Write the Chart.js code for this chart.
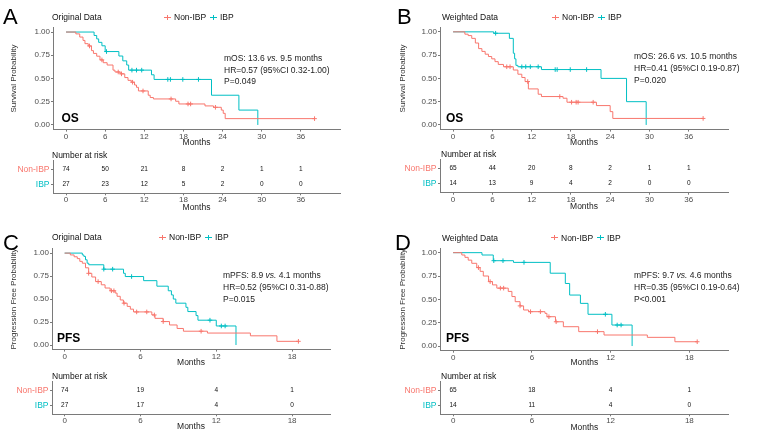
<!DOCTYPE html>
<html><head><meta charset="utf-8">
<script src="https://cdn.jsdelivr.net/npm/chart.js@4.4.1/dist/chart.umd.min.js"></script>
<style>
html,body{margin:0;padding:0;background:#fff;}
#root{position:relative;width:784px;height:437px;overflow:hidden;font-family:'Liberation Sans',Arial,sans-serif;}
canvas{position:absolute;}
.t{position:absolute;white-space:nowrap;}
.mk{position:absolute;}
</style></head><body><div id="root"></div>
<script>
// ================= DATA =================
const groups = ['Non-IBP', 'IBP'];
const osTicks = [0, 6, 12, 18, 24, 30, 36];
const pfsTicks = [0, 6, 12, 18];
const survTicks = [0, 0.25, 0.5, 0.75, 1];

// A: OS, original data
const A_nonT = [0, 1.5, 2.1, 2.6, 2.9, 3.4, 3.9, 4.2, 4.7, 5.2, 5.7, 6.3, 7.2, 7.5, 8.3, 9.0, 9.5, 10.0, 10.5, 10.8, 11.1, 12.6, 12.9, 13.4, 16.8, 17.3, 21.3, 22.6, 23.8, 24.1, 24.4, 38.1];
const A_nonS = [1, 0.98, 0.946, 0.91, 0.875, 0.85, 0.80, 0.77, 0.74, 0.70, 0.67, 0.645, 0.59, 0.57, 0.55, 0.51, 0.48, 0.46, 0.43, 0.405, 0.366, 0.32, 0.295, 0.28, 0.255, 0.226, 0.205, 0.19, 0.16, 0.125, 0.068, 0.068];
const A_nonC = [3.6, 5.5, 8.0, 8.5, 10.2, 11.8, 16.1, 18.7, 19.1, 22.9, 38.1];
const A_ibpT = [0, 4.3, 4.7, 5.0, 5.5, 6.0, 8.1, 8.7, 9.3, 9.6, 13.1, 13.5, 22.3, 26.5, 29.4];
const A_ibpS = [1, 0.963, 0.926, 0.889, 0.852, 0.79, 0.742, 0.69, 0.645, 0.59, 0.54, 0.49, 0.32, 0.16, 0];
const A_ibpC = [6.2, 10.1, 10.8, 11.6, 15.6, 16.0, 17.9, 20.3];
const A_riskNon = [74, 50, 21, 8, 2, 1, 1];
const A_riskIbp = [27, 23, 12, 5, 2, 0, 0];

// B: OS, weighted data
const B_nonT = [0, 1.8, 2.3, 2.85, 3.4, 3.9, 4.4, 4.9, 5.4, 5.9, 6.4, 6.9, 7.7, 9.2, 9.9, 10.5, 11.0, 11.5, 13.0, 13.5, 16.8, 17.4, 21.9, 24.0, 24.4, 38.2];
const B_nonS = [1, 0.975, 0.96, 0.93, 0.88, 0.82, 0.79, 0.76, 0.735, 0.71, 0.68, 0.65, 0.625, 0.59, 0.545, 0.51, 0.466, 0.387, 0.33, 0.305, 0.287, 0.244, 0.208, 0.143, 0.07, 0.07];
const B_nonC = [8.2, 8.7, 11.4, 16.3, 18.1, 18.8, 19.1, 21.4, 38.2];
const B_ibpT = [0, 6.2, 8.6, 9.2, 9.4, 9.6, 9.9, 13.5, 22.6, 26.5, 29.5];
const B_ibpS = [1, 0.985, 0.93, 0.77, 0.71, 0.64, 0.625, 0.595, 0.50, 0.25, 0];
const B_ibpC = [6.5, 10.5, 11.1, 11.8, 13.0, 15.6, 15.9, 17.9, 20.4];
const B_riskNon = [65, 44, 20, 8, 2, 1, 1];
const B_riskIbp = [14, 13, 9, 4, 2, 0, 0];

// C: PFS, original data
const C_nonT = [0, 0.45, 0.75, 1.0, 1.2, 1.4, 1.65, 1.9, 2.15, 2.45, 2.9, 3.2, 3.6, 4.0, 4.15, 4.4, 4.65, 4.95, 5.2, 5.45, 6.9, 7.15, 7.8, 8.3, 8.9, 9.4, 11.3, 14.7, 16.8, 18.5];
const C_nonS = [1, 0.98, 0.96, 0.94, 0.91, 0.89, 0.84, 0.78, 0.74, 0.69, 0.655, 0.62, 0.59, 0.565, 0.53, 0.49, 0.455, 0.42, 0.39, 0.36, 0.327, 0.29, 0.255, 0.218, 0.18, 0.15, 0.13, 0.10, 0.04, 0.04];
const C_nonC = [1.9, 2.65, 3.7, 3.9, 4.7, 5.7, 6.5, 7.1, 7.8, 10.8, 18.5];
const C_ibpT = [0, 1.4, 1.52, 1.65, 1.78, 1.91, 3.1, 4.66, 4.8, 6.25, 7.3, 8.2, 8.45, 8.6, 8.8, 9.6, 9.75, 10.4, 10.55, 12.0, 13.56];
const C_ibpS = [1, 0.98, 0.964, 0.927, 0.89, 0.873, 0.825, 0.78, 0.745, 0.70, 0.64, 0.59, 0.545, 0.50, 0.455, 0.41, 0.364, 0.32, 0.27, 0.207, 0];
const C_ibpC = [3.1, 3.8, 5.3, 11.5, 12.4, 12.7];
const C_riskNon = [74, 19, 4, 1];
const C_riskIbp = [27, 17, 4, 0];

// D: PFS, weighted data
const D_nonT = [0, 0.66, 0.9, 1.15, 1.42, 1.8, 2.06, 2.3, 2.7, 3.0, 3.33, 4.2, 4.48, 4.73, 5.1, 5.37, 5.75, 7.0, 7.15, 7.8, 8.4, 9.57, 11.5, 14.8, 16.9, 18.6];
const D_nonS = [1, 0.975, 0.95, 0.92, 0.886, 0.84, 0.80, 0.75, 0.69, 0.655, 0.62, 0.585, 0.53, 0.475, 0.43, 0.386, 0.368, 0.35, 0.314, 0.26, 0.207, 0.154, 0.118, 0.093, 0.046, 0.046];
const D_nonC = [1.93, 2.82, 3.6, 3.85, 5.1, 5.9, 6.65, 7.3, 7.85, 11.0, 18.6];
const D_ibpT = [0, 2.2, 3.06, 4.6, 7.4, 8.55, 8.88, 9.7, 10.28, 12.1, 13.64];
const D_ibpS = [1, 0.975, 0.914, 0.896, 0.78, 0.67, 0.546, 0.457, 0.34, 0.225, 0];
const D_ibpC = [3.1, 3.8, 5.4, 11.6, 12.5, 12.8];
const D_riskNon = [65, 18, 4, 1];
const D_riskIbp = [14, 11, 4, 0];

// ================= STYLE / LAYOUT =================
const FONT = "'Liberation Sans', Arial, sans-serif";
const COL = {non: '#F8766D', ibp: '#00BFC4'};
const AXIS = '#7a7a7a';
const TICKC = '#4d4d4d';
const root = document.getElementById('root');

const panels = [
  {letter:'A', sub:'Original Data', ep:'OS', yTitle:'Survival Probability',
   nonT:A_nonT, nonS:A_nonS, nonC:A_nonC, ibpT:A_ibpT, ibpS:A_ibpS, ibpC:A_ibpC,
   riskNon:A_riskNon, riskIbp:A_riskIbp, xTicks:osTicks, xMin:-2, xMax:42,
   stats:['mOS: 13.6 <i>vs.</i> 9.5 months','HR=0.57 (95%CI 0.32-1.00)','P=0.049'],
   g:{L:0, PL:53, PR:340, kmCT:18, kmCH:134, kmTop:27.4, kmBot:129.6, kmMonths:143, yTitleX:13.5,
      tbCT:150, tbCH:65, tbTop:160.3, tbBot:193.3, tbMonths:207.3,
      letter:[3,16.7], sub:[52,17.3], leg:[164,17.3], stats:[224,[58.3,70,80.7]], ep:[61.5,118], nar:[52,155]}},
  {letter:'B', sub:'Weighted Data', ep:'OS', yTitle:'Survival Probability',
   nonT:B_nonT, nonS:B_nonS, nonC:B_nonC, ibpT:B_ibpT, ibpS:B_ibpS, ibpC:B_ibpC,
   riskNon:B_riskNon, riskIbp:B_riskIbp, xTicks:osTicks, xMin:-2, xMax:42,
   stats:['mOS: 26.6 <i>vs.</i> 10.5 months','HR=0.41 (95%CI 0.19-0.87)','P=0.020'],
   g:{L:392, PL:440, PR:728, kmCT:18, kmCH:134, kmTop:27.2, kmBot:129.6, kmMonths:142.7, yTitleX:403,
      tbCT:150, tbCH:65, tbTop:159.7, tbBot:192.7, tbMonths:206.7,
      letter:[397,16.7], sub:[442,17], leg:[552,17], stats:[634,[56,68.3,80]], ep:[446,118.3], nar:[441,154.3]}},
  {letter:'C', sub:'Original Data', ep:'PFS', yTitle:'Progression Free Probability',
   nonT:C_nonT, nonS:C_nonS, nonC:C_nonC, ibpT:C_ibpT, ibpS:C_ibpS, ibpC:C_ibpC,
   riskNon:C_riskNon, riskIbp:C_riskIbp, xTicks:pfsTicks, xMin:-1, xMax:21,
   stats:['mPFS: 8.9 <i>vs.</i> 4.1 months','HR=0.52 (95%CI 0.31-0.88)','P=0.015'],
   g:{L:0, PL:52, PR:330, kmCT:240, kmCH:132, kmTop:248.5, kmBot:349.6, kmMonths:362.3, yTitleX:13.5,
      tbCT:372, tbCH:65, tbTop:381.3, tbBot:414.3, tbMonths:426.7,
      letter:[3,242.5], sub:[52,237.3], leg:[159,237.3], stats:[223,[275,287.3,299]], ep:[57,338.3], nar:[52,375.7]}},
  {letter:'D', sub:'Weighted Data', ep:'PFS', yTitle:'Progression Free Probability',
   nonT:D_nonT, nonS:D_nonS, nonC:D_nonC, ibpT:D_ibpT, ibpS:D_ibpS, ibpC:D_ibpC,
   riskNon:D_riskNon, riskIbp:D_riskIbp, xTicks:pfsTicks, xMin:-1, xMax:21,
   stats:['mPFS: 9.7 <i>vs.</i> 4.6 months','HR=0.35 (95%CI 0.19-0.64)','P&lt;0.001'],
   g:{L:392, PL:440, PR:728.7, kmCT:240, kmCH:132, kmTop:248, kmBot:350.7, kmMonths:363, yTitleX:403,
      tbCT:372, tbCH:65, tbTop:381.3, tbBot:414.3, tbMonths:427.3,
      letter:[395,242.5], sub:[442,237.7], leg:[551,237.7], stats:[634,[275,287,299]], ep:[446,338.3], nar:[441,375.7]}}
];

// ================= HELPERS =================
function lastLE(t, v){ let k = 0; for (let i = 0; i < t.length; i++) if (t[i] <= v) k = i; return k; }
const pts = (t, s) => t.map((x, i) => ({x, y: s[i]}));
const cens = (t, s, c) => c.map(x => ({x, y: s[lastLE(t, x)]}));

function text(html, x, cy, size, opt = {}) {
  const d = document.createElement('div');
  d.className = 't';
  d.innerHTML = html;
  const lh = Math.round(size * 1.2);
  d.style.left = x + 'px';
  d.style.top = (cy - lh / 2) + 'px';
  d.style.fontSize = size + 'px';
  d.style.lineHeight = lh + 'px';
  d.style.color = opt.color || '#222';
  if (opt.bold) d.style.fontWeight = 'bold';
  root.appendChild(d);
}
function box(x, y, w, h, color) {
  const d = document.createElement('div');
  d.className = 'mk';
  d.style.cssText = `left:${x}px;top:${y}px;width:${w}px;height:${h}px;background:${color};`;
  root.appendChild(d);
}
function legendKey(x, cy, color) {
  box(x, cy - 0.5, 7, 1, color);
  box(x + 3, cy - 2.5, 1, 5, color);
}
function makeCanvas(left, top, w, h) {
  const c = document.createElement('canvas');
  c.width = w; c.height = h;
  c.style.left = left + 'px'; c.style.top = top + 'px';
  c.style.width = w + 'px'; c.style.height = h + 'px';
  root.appendChild(c);
  return c;
}
function xAxis(p, boxH, monthsPad) {
  return {
    type: 'linear', min: p.xMin, max: p.xMax, bounds: 'data',
    afterBuildTicks: s => { s.ticks = p.xTicks.map(v => ({value: v})); },
    ticks: {autoSkip: false, maxRotation: 0, padding: 0, color: TICKC, font: {family: FONT, size: 8}},
    grid: {display: true, drawOnChartArea: false, drawTicks: true, tickLength: 2, color: AXIS, lineWidth: 1},
    border: {display: true, color: AXIS, width: 1},
    title: {display: true, text: 'Months', color: '#222', font: {family: FONT, size: 8.5}, padding: {top: 0, bottom: monthsPad}},
    afterFit: s => { s.height = boxH; }
  };
}

// ================= DRAW =================
panels.forEach(p => {
  const g = p.g;
  const W = 392;

  // ---- KM curve chart ----
  const c1 = makeCanvas(g.L, g.kmCT, W, g.kmCH);
  const kmBoxH = g.kmCT + g.kmCH - g.kmBot;
  new Chart(c1, {
    type: 'line',
    data: {datasets: [
      {data: pts(p.nonT, p.nonS), borderColor: COL.non, borderWidth: 1, stepped: 'before', pointRadius: 0, fill: false},
      {data: pts(p.ibpT, p.ibpS), borderColor: COL.ibp, borderWidth: 1, stepped: 'before', pointRadius: 0, fill: false},
      {data: cens(p.nonT, p.nonS, p.nonC), showLine: false, pointStyle: 'cross', pointRadius: 2.3,
       borderColor: COL.non, pointBorderColor: COL.non, pointBorderWidth: 1, backgroundColor: COL.non},
      {data: cens(p.ibpT, p.ibpS, p.ibpC), showLine: false, pointStyle: 'cross', pointRadius: 2.3,
       borderColor: COL.ibp, pointBorderColor: COL.ibp, pointBorderWidth: 1, backgroundColor: COL.ibp}
    ]},
    options: {
      responsive: false, animation: false, devicePixelRatio: 1,
      layout: {padding: {left: 0, top: g.kmTop - g.kmCT, right: g.L + W - g.PR, bottom: 0}},
      plugins: {legend: {display: false}, tooltip: {enabled: false}},
      scales: {
        x: xAxis(p, kmBoxH, g.kmCT + g.kmCH - g.kmMonths - 5.1),
        y: {
          type: 'linear', min: -0.05, max: 1.05, bounds: 'data',
          afterBuildTicks: s => { s.ticks = survTicks.map(v => ({value: v})); },
          ticks: {autoSkip: false, padding: 1, color: TICKC, font: {family: FONT, size: 8}, callback: v => Number(v).toFixed(2)},
          grid: {display: true, drawOnChartArea: false, drawTicks: true, tickLength: 2, color: AXIS},
          border: {display: true, color: AXIS, width: 1},
          title: {display: true, text: p.yTitle, color: '#333', font: {family: FONT, size: 8},
                  padding: {top: g.yTitleX - g.L - 4.8, bottom: 0}},
          afterFit: s => { s.width = g.PL - g.L; }
        }
      }
    }
  });

  // ---- risk table chart ----
  const c2 = makeCanvas(g.L, g.tbCT, W, g.tbCH);
  const tbBoxH = g.tbCT + g.tbCH - g.tbBot;
  new Chart(c2, {
    type: 'scatter',
    data: {datasets: []},
    options: {
      responsive: false, animation: false, devicePixelRatio: 1,
      layout: {padding: {left: 0, top: g.tbTop - g.tbCT, right: g.L + W - g.PR, bottom: 0}},
      plugins: {legend: {display: false}, tooltip: {enabled: false}},
      scales: {
        x: xAxis(p, tbBoxH, g.tbCT + g.tbCH - g.tbMonths - 5.1),
        y: {
          type: 'linear', min: 0.4, max: 2.6, bounds: 'data',
          afterBuildTicks: s => { s.ticks = [{value: 1}, {value: 2}]; },
          ticks: {autoSkip: false, padding: 1.5, font: {family: FONT, size: 8.5},
                  callback: v => (v === 2 ? groups[0] : groups[1]),
                  color: ctx => (ctx.tick && ctx.tick.value === 2 ? COL.non : COL.ibp)},
          grid: {display: true, drawOnChartArea: false, drawTicks: true, tickLength: 2, color: AXIS},
          border: {display: true, color: AXIS, width: 1},
          afterFit: s => { s.width = g.PL - g.L; }
        }
      }
    },
    plugins: [{
      id: 'riskNumbers',
      afterDraw(chart) {
        const {ctx, scales: {x, y}} = chart;
        ctx.save();
        ctx.font = '6.5px ' + FONT;
        ctx.fillStyle = '#111';
        ctx.textAlign = 'center';
        ctx.textBaseline = 'middle';
        p.xTicks.forEach((t, i) => {
          ctx.fillText(String(p.riskNon[i]), x.getPixelForValue(t), y.getPixelForValue(2));
          ctx.fillText(String(p.riskIbp[i]), x.getPixelForValue(t), y.getPixelForValue(1));
        });
        ctx.restore();
      }
    }]
  });

  // ---- texts ----
  text(p.letter, g.letter[0], g.letter[1], 22, {color: '#000'});
  text(p.sub, g.sub[0], g.sub[1], 8.5, {color: '#111'});
  legendKey(g.leg[0], g.leg[1], COL.non);
  text(groups[0], g.leg[0] + 10, g.leg[1], 8.5, {color: '#111'});
  legendKey(g.leg[0] + 46, g.leg[1], COL.ibp);
  text(groups[1], g.leg[0] + 56, g.leg[1], 8.5, {color: '#111'});
  p.stats.forEach((s, i) => text(s, g.stats[0], g.stats[1][i], 8.5, {color: '#222'}));
  text(p.ep, g.ep[0], g.ep[1], 12, {bold: true, color: '#000'});
  text('Number at risk', g.nar[0], g.nar[1], 8.5, {color: '#111'});
});
</script>
</body></html>
